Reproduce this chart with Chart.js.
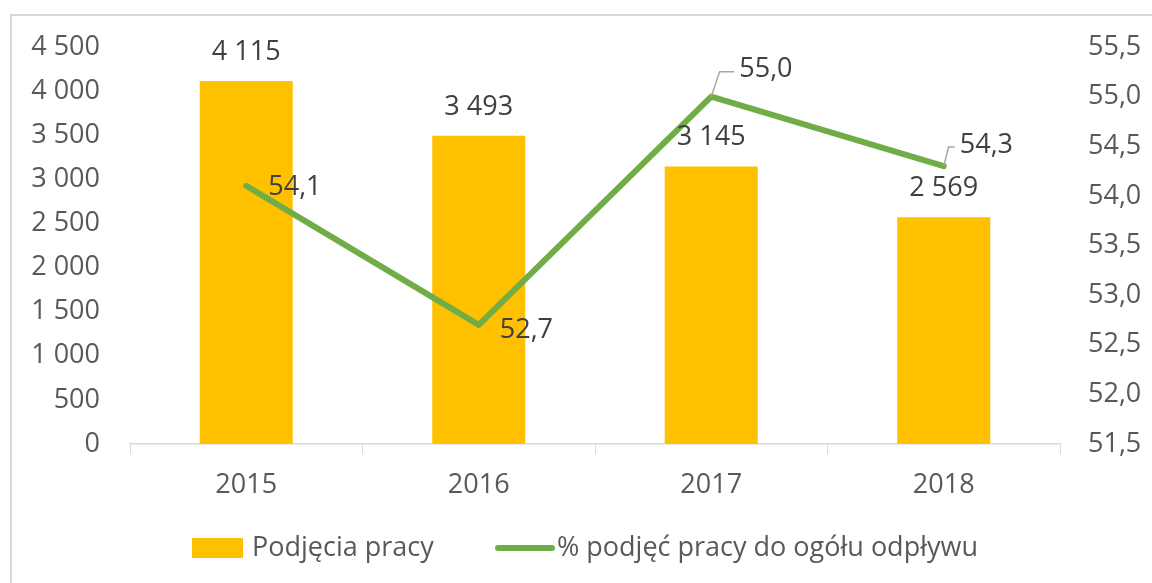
<!DOCTYPE html>
<html>
<head>
<meta charset="utf-8">
<script src="https://cdn.jsdelivr.net/npm/chart.js@4/dist/chart.umd.min.js"></script>
<style>
  html, body { margin: 0; padding: 0; background: #fff; }
  #wrap { position: relative; width: 1152px; height: 583px; }
</style>
</head>
<body>
<div id="wrap"><canvas id="chart" width="1152" height="583"></canvas></div>
<script>
// dane z wykresu
const years = ['2015', '2016', '2017', '2018'];
const podjecia = [4115, 3493, 3145, 2569];
const procentPodjec = [54.1, 52.7, 55.0, 54.3];

const FONT = '"Open Sans", sans-serif';
const TXT = '#595959';
const LBL = '#404040';
const YELLOW = '#FFC000';
const GREEN = '#70AD47';

function fmtInt(v) {
    return String(v).replace(/\B(?=(\d{3})+(?!\d))/g, ' ');
}
function fmtDec(v) {
    return Number(v).toFixed(1).replace('.', ',');
}

// ramka wokół wykresu
const framePlugin = {
    id: 'frame',
    beforeDraw(chart) {
        const ctx = chart.ctx;
        ctx.save();
        ctx.strokeStyle = '#d9d9d9';
        ctx.lineWidth = 2;
        ctx.strokeRect(11, 15, 1160, 600);
        ctx.restore();
    }
};

// legenda rysowana ręcznie (odstępy jak w Excelu)
const legendPlugin = {
    id: 'excelLegend',
    afterDraw(chart) {
        const ctx = chart.ctx;
        const ds = chart.data.datasets;
        const cy = 548;
        ctx.save();
        ctx.font = '27px ' + FONT;
        ctx.textBaseline = 'middle';
        ctx.textAlign = 'left';
        // słupki
        ctx.fillStyle = ds[0].backgroundColor;
        ctx.fillRect(192, cy - 10, 51, 20);
        ctx.fillStyle = TXT;
        ctx.fillText(ds[0].label, 252, cy);
        // linia
        ctx.strokeStyle = ds[1].borderColor;
        ctx.lineWidth = 6;
        ctx.lineCap = 'round';
        ctx.beginPath();
        ctx.moveTo(498, cy);
        ctx.lineTo(552, cy);
        ctx.stroke();
        ctx.fillText(ds[1].label, 557, cy);
        ctx.restore();
    }
};

// etykiety danych (słupki nad, linia obok z liniami odniesienia)
const lineLabelPos = [
    { dx: 22, dy: 1, leader: false },
    { dx: 21, dy: 5, leader: false },
    { dx: 28, dy: -27, leader: true },
    { dx: 16, dy: -21, leader: true }
];
const labelsPlugin = {
    id: 'valueLabels',
    afterDatasetsDraw(chart) {
        const ctx = chart.ctx;
        ctx.save();
        ctx.font = '27px ' + FONT;
        ctx.fillStyle = LBL;
        ctx.textBaseline = 'middle';

        const bars = chart.getDatasetMeta(0).data;
        ctx.textAlign = 'center';
        bars.forEach((b, i) => {
            ctx.fillText(fmtInt(podjecia[i]), b.x, b.y - 29);
        });

        const pts = chart.getDatasetMeta(1).data;
        ctx.textAlign = 'left';
        pts.forEach((p, i) => {
            const o = lineLabelPos[i];
            const tx = p.x + o.dx, ty = p.y + o.dy;
            if (o.leader) {
                ctx.strokeStyle = '#a6a6a6';
                ctx.lineWidth = 1.5;
                ctx.beginPath();
                ctx.moveTo(p.x, p.y);
                ctx.lineTo(p.x + o.dx * 0.3, ty + 2);
                ctx.lineTo(tx - 5, ty + 2);
                ctx.stroke();
            }
            ctx.fillText(fmtDec(procentPodjec[i]), tx, ty);
        });
        ctx.restore();
    }
};

new Chart(document.getElementById('chart'), {
    data: {
        labels: years,
        datasets: [{
            type: 'bar',
            label: 'Podjęcia pracy',
            data: podjecia,
            backgroundColor: YELLOW,
            borderWidth: 0,
            barPercentage: 1,
            categoryPercentage: 0.4,
            yAxisID: 'y',
            order: 1
        }, {
            type: 'line',
            label: '% podjęć pracy do ogółu odpływu',
            data: procentPodjec,
            borderColor: GREEN,
            backgroundColor: GREEN,
            borderWidth: 6,
            pointRadius: 0,
            tension: 0,
            borderJoinStyle: 'round',
            borderCapStyle: 'round',
            yAxisID: 'y1',
            order: 0
        }]
    },
    options: {
        responsive: false,
        animation: false,
        layout: { padding: { top: 47, left: 30, right: 0, bottom: 67 } },
        plugins: {
            tooltip: { enabled: false },
            legend: { display: false }
        },
        scales: {
            x: {
                grid: {
                    offset: true,
                    drawOnChartArea: false,
                    drawTicks: true,
                    tickLength: 10,
                    color: '#d9d9d9'
                },
                border: { display: true, color: '#d9d9d9', width: 1.5 },
                ticks: { color: TXT, font: { family: FONT, size: 27 }, padding: 15 },
                afterFit(scale) { scale.height = 72; }
            },
            y: {
                position: 'left',
                min: 0,
                max: 4500,
                ticks: {
                    stepSize: 500,
                    color: TXT,
                    padding: 30,
                    font: { family: FONT, size: 27 },
                    callback: v => fmtInt(v)
                },
                grid: { display: false, drawTicks: false },
                border: { display: false },
                afterFit(scale) { scale.width = 100; }
            },
            y1: {
                position: 'right',
                min: 51.5,
                max: 55.5,
                ticks: {
                    stepSize: 0.5,
                    color: TXT,
                    padding: 28,
                    font: { family: FONT, size: 27 },
                    callback: v => fmtDec(v)
                },
                grid: { display: false, drawTicks: false },
                border: { display: false },
                afterFit(scale) { scale.width = 92; }
            }
        }
    },
    plugins: [framePlugin, labelsPlugin, legendPlugin]
});
</script>
</body>
</html>
